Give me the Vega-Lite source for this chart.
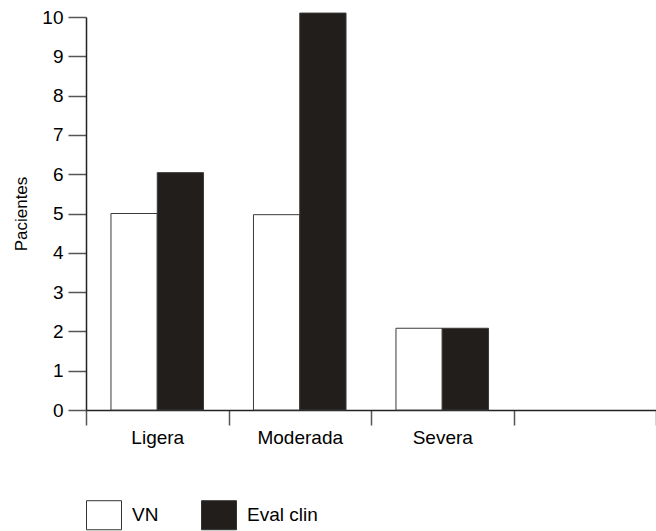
{
  "$schema": "https://vega.github.io/schema/vega-lite/v6.json",
  "width": 570,
  "height": 393,
  "autosize": "none",
  "padding": {"left": 86, "top": 17, "right": 0, "bottom": 121},
  "config": {
    "font": "Liberation Sans",
    "view": {"stroke": null},
    "background": "#ffffff"
  },
  "data": {
    "values": [
      {"gravedad": "Ligera", "serie": "VN", "pacientes": 5},
      {"gravedad": "Ligera", "serie": "Eval clin", "pacientes": 6.04},
      {"gravedad": "Moderada", "serie": "VN", "pacientes": 4.97},
      {"gravedad": "Moderada", "serie": "Eval clin", "pacientes": 10.1},
      {"gravedad": "Severa", "serie": "VN", "pacientes": 2.08},
      {"gravedad": "Severa", "serie": "Eval clin", "pacientes": 2.08}
    ]
  },
  "mark": {"type": "bar", "stroke": "#3a3a3a", "strokeWidth": 1},
  "encoding": {
    "x": {
      "field": "gravedad",
      "type": "nominal",
      "sort": null,
      "scale": {"domain": ["Ligera", "Moderada", "Severa", " "], "paddingInner": 0, "paddingOuter": 0},
      "axis": {
        "title": null,
        "labelAngle": 0,
        "tickBand": "extent",
        "tickSize": 15,
        "tickColor": "#555555",
        "tickWidth": 1.5,
        "domainColor": "#222222",
        "domainWidth": 1.5,
        "labelFontSize": 19,
        "labelColor": "#000000",
        "labelPadding": 3
      }
    },
    "xOffset": {
      "field": "serie",
      "type": "nominal",
      "scale": {"domain": ["VN", "Eval clin"], "paddingInner": 0, "paddingOuter": 0.54}
    },
    "y": {
      "field": "pacientes",
      "type": "quantitative",
      "scale": {"domain": [0, 10], "nice": false},
      "axis": {
        "title": "Pacientes",
        "titleFontSize": 17,
        "titleFontWeight": "normal",
        "titleColor": "#000000",
        "titlePadding": 11,
        "values": [0, 1, 2, 3, 4, 5, 6, 7, 8, 9, 10],
        "grid": false,
        "tickSize": 18,
        "tickColor": "#555555",
        "tickWidth": 1.5,
        "domainColor": "#222222",
        "domainWidth": 1.5,
        "labelFontSize": 19,
        "labelColor": "#000000",
        "labelPadding": 5
      }
    },
    "fill": {
      "field": "serie",
      "type": "nominal",
      "scale": {"domain": ["VN", "Eval clin"], "range": ["#ffffff", "#221e1b"]},
      "legend": {
        "title": null,
        "orient": "none",
        "legendX": 0,
        "legendY": 480,
        "direction": "horizontal",
        "symbolType": "M-1,-0.83H1V0.83H-1Z",
        "symbolSize": 1225,
        "symbolStrokeColor": "#333333",
        "symbolStrokeWidth": 1,
        "labelFontSize": 19,
        "labelColor": "#000000",
        "labelOffset": 10,
        "columnPadding": 40
      }
    }
  }
}
